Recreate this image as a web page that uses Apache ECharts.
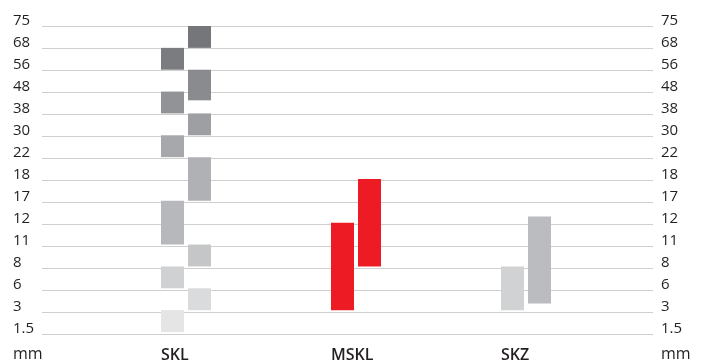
<!DOCTYPE html>
<html>
<head>
<meta charset="utf-8">
<script src="https://cdn.jsdelivr.net/npm/echarts@6/dist/echarts.min.js"></script>
<style>
  html, body { margin: 0; padding: 0; background: #fff; }
  #chart { width: 702px; height: 363px; }
</style>
</head>
<body>
<div id="chart"></div>
<script>
// ordinal mm scale on the y axis
var ticks = [1.5, 3, 6, 8, 11, 12, 17, 18, 22, 30, 38, 48, 56, 68, 75];
var categories = ['SKL', 'MSKL', 'SKZ'];

// ranges [from, to] in mm, left bar and right bar of each group
var sklLeft = [[1.5, 3], [6, 8], [11, 17], [22, 30], [38, 48], [56, 68]];
var sklRight = [[3, 6], [8, 11], [17, 22], [30, 38], [44, 56], [68, 75]];
var msklLeft = [[3, 12]];
var msklRight = [[8, 18]];
var skzLeft = [[3, 8]];
var skzRight = [[3.9, 13.4]];

var sklLeftColors = ['#e5e5e6', '#d0d1d3', '#b7b8bb', '#a7a8ab', '#929396', '#7b7c80'];
var sklRightColors = ['#dadbdc', '#c5c6c8', '#b0b1b4', '#9e9fa2', '#8a8b8f', '#75767a'];
var msklColor = '#ed1c24';
var skzColors = ['#d1d2d4', '#bbbcbf'];

// mm value -> position on the ordinal axis
function toPos(v) {
  for (var i = 0; i < ticks.length - 1; i++) {
    if (v <= ticks[i + 1]) {
      return i + (v - ticks[i]) / (ticks[i + 1] - ticks[i]);
    }
  }
  return ticks.length - 1;
}

var barData = [];
function addBars(cat, side, ranges, colors) {
  for (var i = 0; i < ranges.length; i++) {
    barData.push({
      value: [cat, side, toPos(ranges[i][0]), toPos(ranges[i][1])],
      itemStyle: { color: Array.isArray(colors) ? colors[i] : colors }
    });
  }
}
addBars(0, 0, sklLeft, sklLeftColors);
addBars(0, 1, sklRight, sklRightColors);
addBars(1, 0, msklLeft, msklColor);
addBars(1, 1, msklRight, msklColor);
addBars(2, 0, skzLeft, skzColors[0]);
addBars(2, 1, skzRight, skzColors[1]);

var font = 'Open Sans';
var textColor = '#231f20';

var myChart = echarts.init(document.getElementById('chart'));
var labelStyle = {
  color: textColor,
  fontFamily: font,
  fontSize: 15,
  verticalAlign: 'bottom',
  lineHeight: 11,
  align: 'left',
  formatter: function (v) { return ticks[v] !== undefined ? String(ticks[v]) : ''; }
};

var option = {
  animation: false,
  grid: [
    { left: 42, right: 49, top: 26, bottom: 29 },
    { left: 101, right: 91, top: 26, bottom: 29 }
  ],
  xAxis: [
    { gridIndex: 0, type: 'value', show: false, min: 0, max: 1 },
    {
      gridIndex: 1,
      type: 'category',
      data: categories,
      axisLine: { show: false },
      axisTick: { show: false },
      axisLabel: {
        margin: 15,
        formatter: function (v) { return '{a|' + v + '}'; },
        rich: {
          a: { width: 50, align: 'left', color: textColor, fontFamily: font, fontSize: 16, fontWeight: 600 }
        }
      }
    }
  ],
  yAxis: [
    {
      gridIndex: 0, type: 'value', min: 0, max: 14, interval: 1, position: 'left',
      axisLine: { show: false }, axisTick: { show: false },
      splitLine: { lineStyle: { color: '#cfcfcf', width: 1 } },
      axisLabel: Object.assign({ margin: 29 }, labelStyle)
    },
    {
      gridIndex: 0, type: 'value', min: 0, max: 14, interval: 1, position: 'right',
      axisLine: { show: false }, axisTick: { show: false },
      splitLine: { show: false },
      axisLabel: Object.assign({ margin: 8 }, labelStyle)
    },
    { gridIndex: 1, type: 'value', min: 0, max: 14, show: false }
  ],
  graphic: [
    { type: 'text', left: 13, top: 346, style: { text: 'mm', fill: textColor, font: '16px "Open Sans"' } },
    { type: 'text', left: 661, top: 346, style: { text: 'mm', fill: textColor, font: '16px "Open Sans"' } }
  ],
  series: [{
    type: 'custom',
    xAxisIndex: 1,
    yAxisIndex: 2,
    data: barData,
    renderItem: function (params, api) {
      var c = api.coord([api.value(0), api.value(2)]);
      var top = api.coord([api.value(0), api.value(3)]);
      var barW = 23, gap = 4;
      var x = api.value(1) === 0 ? c[0] - gap / 2 - barW : c[0] + gap / 2;
      return {
        type: 'rect',
        shape: { x: x, y: top[1], width: barW, height: c[1] - top[1] },
        style: { fill: api.visual('color') }
      };
    }
  }]
};
myChart.setOption(option);
</script>
</body>
</html>
